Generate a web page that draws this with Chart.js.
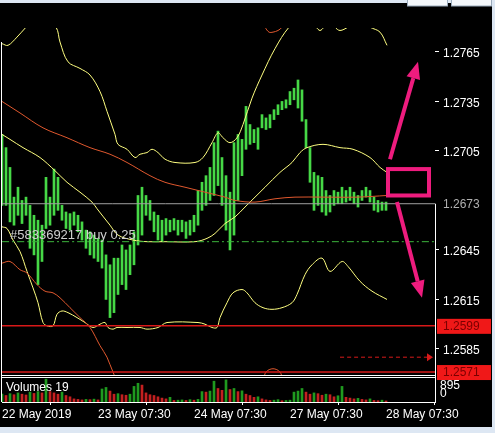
<!DOCTYPE html>
<html>
<head>
<meta charset="utf-8">
<script src="https://cdn.jsdelivr.net/npm/chart.js@4.4.1/dist/chart.umd.min.js"></script>
<style>
  html, body { margin: 0; padding: 0; background: #000; }
  #wrap { width: 495px; height: 433px; }
</style>
</head>
<body>
<div id="wrap"><canvas id="chart" width="495" height="433"></canvas></div>
<script>
// -------------------------
// Data (H1 bars, index 0 = 22 May)
// -------------------------

// bar highs / lows, one per hour
const barHigh = [1.2715,1.2707,1.2695,1.2677,1.2683,1.2675,1.2677,1.2672,1.2666,1.2663,
  1.2660,1.2689,1.2677,1.2694,1.2689,1.2672,1.2668,1.2667,1.2668,1.2666,
  1.2662,1.2657,1.2656,1.2654,1.2652,1.2651,1.2642,1.2636,1.2640,1.2640,
  1.2648,1.2645,1.2648,1.2656,1.2678,1.2683,1.2678,1.2675,1.2668,1.2666,
  1.2663,1.2664,1.2663,1.2664,1.2663,1.2663,1.2662,1.2663,1.2666,1.2681,
  1.2686,1.2690,1.2695,1.2710,1.2717,1.2701,1.2690,1.2680,1.2710,1.2715,
  1.2712,1.2732,1.2721,1.2718,1.2719,1.2727,1.2725,1.2727,1.2730,1.2733,
  1.2735,1.2736,1.2741,1.2743,1.2748,1.2742,1.2724,1.2707,1.2692,1.2690,
  1.2689,1.2681,1.2678,1.2681,1.2680,1.2683,1.2681,1.2683,1.2680,1.2678,
  1.2681,1.2683,1.2681,1.2677,1.2675,1.2674,1.2674];
const barLow = [1.2672,1.2672,1.2662,1.2660,1.2666,1.2661,1.2666,1.2646,1.2642,1.2624,
  1.2638,1.2658,1.2660,1.2666,1.2669,1.2663,1.2658,1.2657,1.2660,1.2656,
  1.2651,1.2646,1.2642,1.2640,1.2638,1.2634,1.2615,1.2604,1.2607,1.2618,
  1.2624,1.2621,1.2630,1.2636,1.2648,1.2654,1.2666,1.2663,1.2656,1.2651,
  1.2650,1.2654,1.2656,1.2657,1.2654,1.2656,1.2652,1.2654,1.2656,1.2660,
  1.2669,1.2672,1.2675,1.2678,1.2684,1.2672,1.2657,1.2645,1.2654,1.2675,
  1.2690,1.2706,1.2709,1.2710,1.2706,1.2719,1.2718,1.2719,1.2724,1.2727,
  1.2730,1.2731,1.2733,1.2736,1.2731,1.2723,1.2707,1.2686,1.2669,1.2672,
  1.2668,1.2666,1.2668,1.2672,1.2673,1.2673,1.2674,1.2675,1.2673,1.2671,
  1.2675,1.2677,1.2674,1.2669,1.2668,1.2669,1.2669];

// tick volumes
const volumes = [300,250,320,280,350,300,270,380,330,400,
  350,880,400,350,300,380,250,200,120,100,
  80,100,90,110,80,500,560,420,300,320,
  280,260,300,600,720,650,350,280,250,200,
  150,120,180,60,70,80,60,90,70,100,
  400,380,420,800,520,450,850,480,520,400,
  430,300,250,180,200,120,80,60,70,90,
  50,60,70,380,420,520,380,300,350,320,
  260,300,280,200,240,600,180,150,120,140,
  100,80,120,60,50,70,40];

// indicator lines: [bar index, price]
const upperBand = [[0,1.2770],[1.5,1.2769],[3.75,1.2774],[6,1.2780],[9.5,1.2789],[13.5,1.2780],
  [14.5,1.2771],[16.5,1.2759],[19.5,1.2755],[22,1.2751],[24.5,1.2741],[26.25,1.2729],
  [28.25,1.2715],[29,1.2709],[31.25,1.2706],[33.25,1.2701],[34.5,1.2703],[36.25,1.2704],
  [37.5,1.2706],[39,1.2704],[40.75,1.2700],[43.25,1.2698],[48.25,1.2698],[50.25,1.2701],
  [52.5,1.2710],[54,1.2716],[55.25,1.2713],[57,1.2710],[58.75,1.2713],[60.25,1.2721],
  [62.5,1.2737],[65,1.2751],[68.25,1.2767],[71.75,1.2780],[75.25,1.2787],[78.5,1.2780],
  [79.5,1.2778],[80.5,1.2780],[82,1.2784],[83.25,1.2780],[84.5,1.2778],[86.5,1.2780],
  [89.5,1.2784],[92,1.2780],[94.5,1.2777],[96.25,1.2769]];
const middleBand = [[0,1.2715],[2,1.2712],[5.25,1.2707],[9.5,1.2701],[13.25,1.2693],[16.25,1.2686],
  [19.5,1.2680],[22.5,1.2674],[23.75,1.2670],[27,1.2660],[29,1.2654],[32.75,1.2651],
  [36.25,1.2650],[40.75,1.2650],[48.25,1.2650],[51.25,1.2652],[53.25,1.2655],[55.75,1.2661],
  [58.25,1.2665],[60.75,1.2671],[63.25,1.2677],[65.75,1.2683],[69.5,1.2692],[72.5,1.2698],
  [74.5,1.2704],[76.25,1.2707],[80.25,1.2709],[84.5,1.2707],[87.75,1.2706],[92,1.2701],
  [94.5,1.2695],[96.25,1.2692]];
const lowerBand = [[0,1.2659],[1.25,1.2658],[2.75,1.2651],[4.5,1.2644],[6.25,1.2632],[7.75,1.2622],
  [9,1.2613],[10.25,1.2601],[11.25,1.2599],[12.75,1.2599],[13.75,1.2606],[15,1.2608],
  [16.5,1.2607],[18.75,1.2604],[20.75,1.2601],[22.75,1.2598],[24.5,1.2600],[25.75,1.2601],
  [26.5,1.2598],[27.75,1.2597],[28.75,1.2598],[31.25,1.2598],[34.5,1.2598],[36.25,1.2597],
  [39,1.2598],[41.25,1.2601],[49,1.2601],[50.75,1.2600],[52.5,1.2598],[53.75,1.2598],
  [54.5,1.2604],[56.25,1.2613],[57.75,1.2619],[60,1.2621],[61.25,1.2619],[63.25,1.2613],
  [65.25,1.2610],[67.5,1.2609],[70,1.2610],[72.5,1.2613],[73.75,1.2618],[75.75,1.2630],
  [77.5,1.2636],[80,1.2640],[82,1.2632],[85,1.2638],[86.5,1.2635],[89.5,1.2626],
  [92.5,1.2620],[96.25,1.2615]];
const slowMA = [[0,1.2735],[4.5,1.2728],[10.25,1.2719],[16.25,1.2713],[22,1.2707],[27,1.2703],
  [31.25,1.2698],[37,1.2690],[40.75,1.2686],[45.75,1.2683],[50.75,1.2680],[55.75,1.2677],
  [58.25,1.2675],[63.25,1.2674],[68.25,1.2676],[73.25,1.2677],[80.25,1.2677],[88.75,1.2677],
  [96.25,1.2678]];
const envUpper = [[64,1.2787],[65.75,1.2780],[66.75,1.2777],[67.75,1.2777],[69,1.2778],[70,1.2780],[71.5,1.2787]];
const envLower = [[0,1.2637],[2,1.2638],[4.5,1.2633],[6.25,1.2631],[8.75,1.2624],[10.75,1.2620],
  [12.75,1.2619],[14.5,1.2616],[17,1.2610],[19.5,1.2604],[22,1.2598],[24.5,1.2587],
  [26.25,1.2580],[27.75,1.2571],[30.75,1.2557],[49.5,1.2554],[64.5,1.2563],[66,1.2571],
  [67.75,1.2573],[69.5,1.2571],[71,1.2563],[82,1.2554]];

// horizontal levels
const bidPrice = 1.2673;
const orderPrice = 1.2650;
const orderLabel = "#583369217 buy 0.25";
const redLevels = [1.2599, 1.2571];
const arrowLevel = [[84.5, 1.2580], [106.5, 1.2580]];

// hand-drawn marks: box and two arrows [from, to]
const pinkBox = [[96.5, 1.2694], [106.75, 1.2678]];
const pinkUp = [[97, 1.2700], [104, 1.2759]];
const pinkDown = [[98.75, 1.2674], [105, 1.2616]];

// axes
const priceTicks = [1.2585, 1.2615, 1.2645, 1.2705, 1.2735, 1.2765];
const timeTicks = [0, 24, 48, 72, 96];
const timeLabels = ["22 May 2019", "23 May 07:30", "24 May 07:30", "27 May 07:30", "28 May 07:30"];
// -------------------------

const FONT = "'Liberation Sans', Arial, sans-serif";
const X_MAX = 108.25;
const pts = (arr) => arr.map(([x, y]) => ({ x: x, y: y }));
const hline = (price) => [{ x: 0, y: price }, { x: X_MAX, y: price }];

function lineSet(data, color, extra) {
  return Object.assign({
    type: "line", data: data, borderColor: color, borderWidth: 1,
    pointRadius: 0, tension: 0.35, yAxisID: "y", xAxisID: "x"
  }, extra || {});
}

// background, frames, labels, drawings
const overlay = {
  id: "overlay",
  beforeDraw(chart) {
    const c = chart.ctx;
    c.save();
    c.fillStyle = "#dde7f3";
    c.fillRect(0, 0, chart.width, chart.height);
    c.fillStyle = "#000";
    c.fillRect(0, 3, 492, 424);
    c.fillStyle = "#f4f7fb";
    c.strokeStyle = "#9aaabb";
    c.fillRect(407, 0, 40, 6); c.strokeRect(407.5, -1, 40, 7);
    c.fillRect(451, 0, 40, 6); c.strokeRect(451.5, -1, 40, 7);
    c.restore();
  },
  afterDraw(chart) {
    const c = chart.ctx;
    const x = chart.scales.x, y = chart.scales.y, yv = chart.scales.yv;
    const area = chart.chartArea;
    c.save();

    // frames
    c.strokeStyle = "#fff";
    c.lineWidth = 1;
    c.beginPath();
    c.moveTo(1.5, 42); c.lineTo(1.5, area.bottom);
    c.moveTo(area.left, y.bottom - 0.5); c.lineTo(area.right, y.bottom - 0.5);
    c.moveTo(area.left, yv.top + 1.5); c.lineTo(area.right, yv.top + 1.5);
    c.moveTo(area.right + 0.5, y.getPixelForValue(bidPrice)); c.lineTo(area.right + 0.5, area.bottom);
    c.stroke();

    // order label
    c.font = "13px " + FONT;
    c.textBaseline = "middle";
    c.fillStyle = "#cfcfcf";
    c.fillText(orderLabel, 10, y.getPixelForValue(orderPrice) - 6);

    // bid label on the axis
    c.font = "12px " + FONT;
    c.fillStyle = "#b0b0b0";
    c.fillText(bidPrice.toFixed(4), 443, y.getPixelForValue(bidPrice) + 1);

    // red level boxes on the axis
    redLevels.forEach((p) => {
      const py = y.getPixelForValue(p);
      c.fillStyle = "#f01818";
      c.fillRect(437, py - 7, 54, 15);
      c.fillStyle = "#7a0000";
      c.fillText(p.toFixed(4), 443, py + 1);
    });

    // arrow head of the dashed level
    const ax = x.getPixelForValue(arrowLevel[1][0]);
    const ay = y.getPixelForValue(arrowLevel[1][1]);
    c.fillStyle = "#d81a1a";
    c.beginPath();
    c.moveTo(ax + 5, ay); c.lineTo(ax - 1, ay - 4); c.lineTo(ax - 1, ay + 4);
    c.closePath(); c.fill();

    // volume pane texts
    c.fillStyle = "#fff";
    c.fillText("Volumes 19", 6, yv.top + 12);
    c.fillText("895", 440, yv.top + 10);
    c.fillText("0", 440, yv.top + 18);

    // pink box and arrows
    const px = (pt) => [x.getPixelForValue(pt[0]), y.getPixelForValue(pt[1])];
    c.strokeStyle = "#ee1c7e";
    c.fillStyle = "#ee1c7e";
    c.lineWidth = 4;
    const b0 = px(pinkBox[0]), b1 = px(pinkBox[1]);
    c.strokeRect(b0[0], b0[1], b1[0] - b0[0], b1[1] - b0[1]);
    [pinkUp, pinkDown].forEach((arr) => {
      const p0 = px(arr[0]), p1 = px(arr[1]);
      const ang = Math.atan2(p1[1] - p0[1], p1[0] - p0[0]);
      const len = 17;
      const bx = p1[0] - len * Math.cos(ang), by = p1[1] - len * Math.sin(ang);
      c.lineWidth = 4;
      c.beginPath(); c.moveTo(p0[0], p0[1]); c.lineTo(bx, by); c.stroke();
      c.beginPath();
      c.moveTo(p1[0], p1[1]);
      c.lineTo(bx + 7 * Math.sin(ang), by - 7 * Math.cos(ang));
      c.lineTo(bx - 7 * Math.sin(ang), by + 7 * Math.cos(ang));
      c.closePath(); c.fill();
    });
    c.restore();
  }
};

const ctx = document.getElementById("chart").getContext("2d");
const chart = new Chart(ctx, {
  type: "line",
  data: {
    datasets: [
      lineSet(hline(bidPrice), "#a0a0a0"),
      lineSet(hline(orderPrice), "#3cb43c", { borderDash: [7, 3, 2, 3] }),
      lineSet(hline(redLevels[0]), "#d81818", { borderWidth: 1.5 }),
      lineSet(hline(redLevels[1]), "#d81818", { borderWidth: 1.5 }),
      lineSet(pts(arrowLevel), "#d81a1a", { borderDash: [4, 3] }),
      lineSet(pts(slowMA), "#e0582e"),
      lineSet(pts(envUpper), "#e0582e"),
      lineSet(pts(envLower), "#e0582e"),
      lineSet(pts(upperBand), "#ffff80"),
      lineSet(pts(middleBand), "#ffff80"),
      lineSet(pts(lowerBand), "#ffff80"),
      {
        type: "bar",
        data: barHigh.map((h, i) => ({ x: i, y: [barLow[i], h] })),
        backgroundColor: "#46d846",
        barThickness: 2, grouped: false, yAxisID: "y", xAxisID: "x"
      },
      {
        type: "bar",
        data: volumes.map((v, i) => ({ x: i, y: v })),
        backgroundColor: volumes.map((v, i) => (i > 0 && v < volumes[i - 1]) ? "#c42020" : "#1f9a1f"),
        barThickness: 2, grouped: false, yAxisID: "yv", xAxisID: "x"
      }
    ]
  },
  options: {
    responsive: false,
    animation: false,
    devicePixelRatio: 1,
    layout: { padding: { top: 28, left: 2, right: 0, bottom: 0 } },
    plugins: { legend: { display: false }, tooltip: { enabled: false } },
    scales: {
      x: {
        type: "linear", min: 0, max: X_MAX, offset: false,
        afterBuildTicks: (s) => { s.ticks = timeTicks.map((v) => ({ value: v })); },
        afterFit: (s) => { s.height = 31; },
        ticks: {
          color: "#fff", font: { family: FONT, size: 12 }, align: "start",
          maxRotation: 0, autoSkip: false, padding: 2,
          callback: (v, i) => timeLabels[i]
        },
        grid: { drawOnChartArea: false, tickLength: 3, color: "#fff" },
        border: { color: "#fff" }
      },
      y: {
        type: "linear", position: "right", stack: "pane", stackWeight: 348,
        min: 1.25686, max: 1.27795,
        afterBuildTicks: (s) => { s.ticks = priceTicks.map((v) => ({ value: v })); },
        afterFit: (s) => { s.width = 60; },
        ticks: {
          color: "#fff", font: { family: FONT, size: 12 }, padding: 4, labelOffset: 2,
          callback: (v) => v.toFixed(4)
        },
        grid: { drawOnChartArea: false, tickLength: 4, color: "#fff" },
        border: { display: false }
      },
      yv: {
        type: "linear", position: "right", stack: "pane", stackWeight: 26,
        min: 0, max: 1000,
        afterFit: (s) => { s.width = 60; },
        ticks: { display: false },
        grid: { display: false },
        border: { display: false }
      }
    }
  },
  plugins: [overlay]
});
</script>
</body>
</html>
